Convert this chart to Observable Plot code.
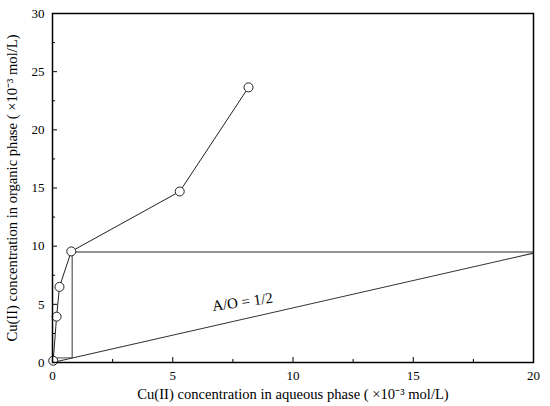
<!DOCTYPE html>
<html>
<head>
<meta charset="utf-8">
<script src="https://cdn.jsdelivr.net/npm/d3@7"></script>
<script src="https://cdn.jsdelivr.net/npm/@observablehq/plot@0.6"></script>
<style>
  html, body { margin: 0; padding: 0; background: #fff; }
  svg { font-family: "Liberation Serif", "Times New Roman", serif; }
</style>
</head>
<body>
<div id="chart"></div>
<script>
// Equilibrium isotherm data (x10^-3 mol/L)
const aqueous = [0.03, 0.17, 0.29, 0.78, 5.29, 8.15];
const organic = [0.15, 3.94, 6.5, 9.55, 14.7, 23.65];
// Operating line A/O = 1/2
const opX = [0, 20];
const opY = [0, 9.4];
// McCabe-Thiele stage construction
const stepX = [20, 0.82, 0.82, 0];
const stepY = [9.5, 9.5, 0.4, 0.4];
// Ticks
const xMajor = [0, 5, 10, 15, 20];
const xMinor = [2.5, 7.5, 12.5, 17.5];
const yMajor = [0, 5, 10, 15, 20, 25, 30];
const yMinor = [2.5, 7.5, 12.5, 17.5, 22.5, 27.5];
const opLabel = "A/O = 1/2";

const iso = aqueous.map((x, i) => ({x, y: organic[i]}));
const op = opX.map((x, i) => ({x, y: opY[i]}));
const steps = stepX.map((x, i) => ({x, y: stepY[i]}));

const chart = Plot.plot({
  width: 550,
  height: 406,
  marginLeft: 52,
  marginRight: 17,
  marginTop: 13,
  marginBottom: 44,
  style: {fontFamily: '"Liberation Serif", "Times New Roman", serif', fontSize: "13px", color: "#000", background: "#fff"},
  x: {domain: [0, 20]},
  y: {domain: [0, 30]},
  marks: [
    Plot.line(steps, {x: "x", y: "y", stroke: "#707070", strokeWidth: 1.4}),
    Plot.line(op, {x: "x", y: "y", stroke: "#333", strokeWidth: 1.1}),
    Plot.line(iso, {x: "x", y: "y", stroke: "#222", strokeWidth: 1}),
    Plot.dot(iso, {x: "x", y: "y", r: 4.5, fill: "#fff", stroke: "#222", strokeWidth: 1}),
    Plot.text([opLabel], {x: 7.9, y: 5.2, text: d => d, rotate: -8, fontSize: 15, fill: "#000"}),
    Plot.axisX({ticks: xMajor, tickSize: 0, tickPadding: 8, fontSize: 13, label: "Cu(II) concentration in aqueous phase ( ×10⁻³ mol/L)", labelAnchor: "center", labelArrow: "none", labelOffset: 36}),
    Plot.axisX({ticks: xMajor, tickSize: -5, text: null, label: null, stroke: "#000"}),
    Plot.axisX({ticks: xMinor, tickSize: -3, text: null, label: null, stroke: "#000"}),
    Plot.axisY({ticks: yMajor, tickSize: 0, tickPadding: 8, fontSize: 13, label: "Cu(II) concentration in organic phase ( ×10⁻³ mol/L)", labelAnchor: "center", labelArrow: "none", labelOffset: 46}),
    Plot.axisY({ticks: yMajor, tickSize: -5, text: null, label: null, stroke: "#000"}),
    Plot.axisY({ticks: yMinor, tickSize: -3, text: null, label: null, stroke: "#000"}),
    Plot.frame({stroke: "#000", strokeWidth: 1.5})
  ]
});
chart.querySelectorAll("g[aria-label$='axis label'], g[aria-label$='axis label'] text").forEach(t => { t.setAttribute("font-size", "14.6"); t.style.fontSize = "14.6px"; });
document.getElementById("chart").appendChild(chart);
</script>
</body>
</html>
